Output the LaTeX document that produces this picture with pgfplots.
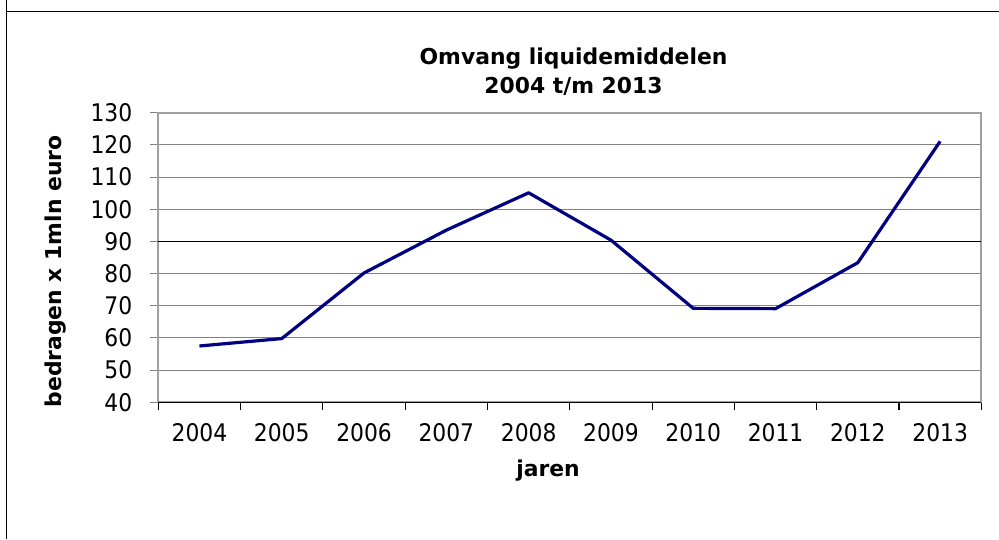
\documentclass[border=0pt]{standalone}
\usepackage{fontspec}
\setmainfont{DejaVu Sans}
\newfontfamily\condfont{DejaVu Sans Condensed}
\usepackage{pgfplots}
\pgfplotsset{compat=1.18}
\definecolor{linenavy}{HTML}{000080}
\definecolor{gridgray}{HTML}{808080}
\definecolor{framegray}{HTML}{A0A0A0}
\begin{document}
\begin{tikzpicture}
\path[use as bounding box] (0pt,0pt) rectangle (749.25pt,404.25pt);
% outer frame (top and left only)
\draw[black, line width=1.1pt] (4.9pt,404.25pt) -- (4.9pt,395.6pt) -- (749.25pt,395.6pt);
\draw[black, line width=1.1pt] (4.9pt,395.6pt) -- (4.9pt,0pt);
\begin{axis}[
  at={(118.725pt,102.525pt)}, anchor=south west,
  scale only axis,
  width=617.25pt, height=217.2pt,
  xmin=-0.5, xmax=9.5,
  ymin=40, ymax=130,
  ytick={40,50,...,130},
  xtick={0,...,9},
  xticklabels={2004,2005,2006,2007,2008,2009,2010,2011,2012,2013},
  minor xtick={-0.5,0.5,...,9.5},
  tick align=outside,
  major tick length=6pt,
  minor tick length=6pt,
  x tick style={draw=none},
  minor x tick style={draw=black, line width=0.8pt},
  y tick style={draw=gridgray, line width=0.8pt},
  ymajorgrids,
  grid style={gridgray, line width=0.8pt},
  extra y ticks={90},
  extra y tick labels={},
  extra y tick style={grid style={black, line width=0.8pt}, tick style={draw=black}},
  axis line style={framegray, line width=1.5pt},
  xtick pos=bottom, ytick pos=left,
  /pgf/number format/assume math mode=true,
  ticklabel style={font=\condfont\fontsize{18.2}{20}\selectfont},
  xticklabel style={yshift=-6pt},
  yticklabel style={xshift=-10pt},
  title={Omvang liquidemiddelen\\2004 t/m 2013},
  title style={at={(axis description cs:0.5045,1.114)}, anchor=center, align=center, font=\bfseries\fontsize{16.4}{21.5}\selectfont},
  xlabel={jaren},
  xlabel style={at={(axis description cs:0.4735,-0.234)}, anchor=center, font=\bfseries\fontsize{16.4}{20}\selectfont},
  ylabel={bedragen x 1mln euro},
  ylabel style={at={(axis description cs:-0.1243,0.4517)}, anchor=center, rotate=0, font=\bfseries\fontsize{16.4}{20}\selectfont},
  clip=false,
]
\draw[black, line width=0.8pt] (axis cs:-0.5,40) -- (axis cs:9.5,40);
\addplot[linenavy, line width=2.4pt, line join=round] coordinates {
  (0,57.5) (1,59.8) (2,80.2) (3,93.5) (4,105.1)
  (5,90.4) (6,69.2) (7,69.1) (8,83.4) (9,121.1)
};
\end{axis}
\end{tikzpicture}
\end{document}
